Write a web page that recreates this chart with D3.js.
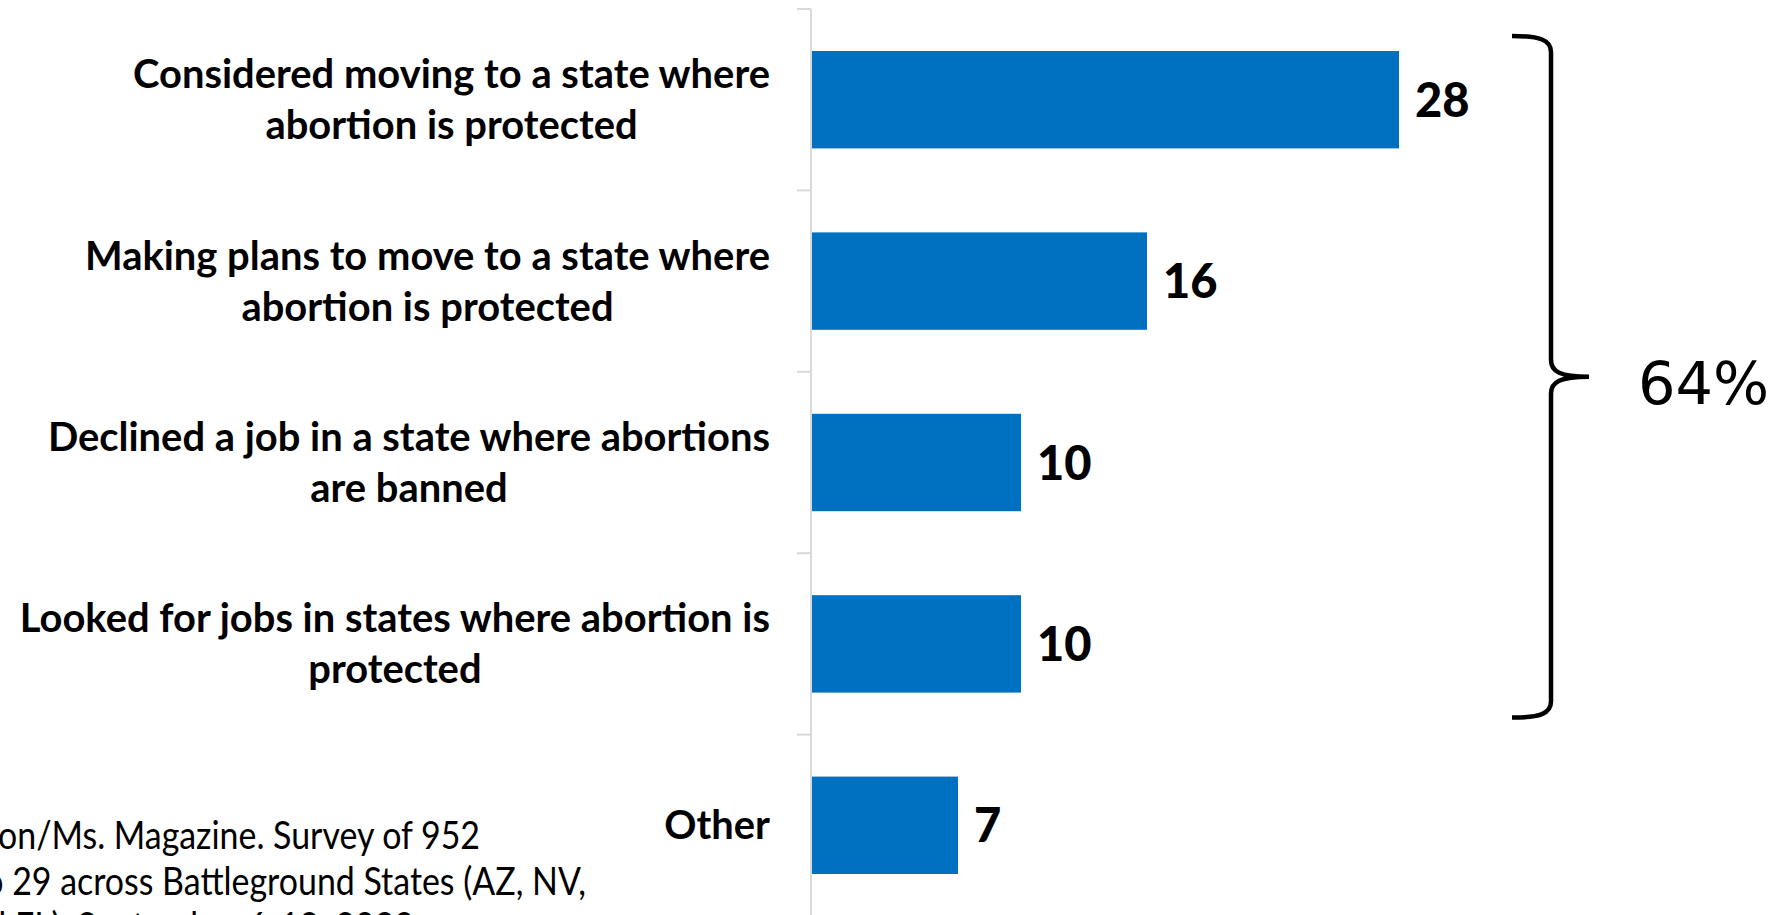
<!DOCTYPE html>
<html>
<head>
<meta charset="utf-8">
<script src="https://cdn.jsdelivr.net/npm/d3@7"></script>
<style>
  html, body { margin: 0; padding: 0; background: #ffffff; overflow: hidden; }
  svg { display: block; }
</style>
</head>
<body>
<svg id="chart" width="1778" height="915"></svg>
<script>
// ---- data ----
const categoryLines = [
  ["Considered moving to a state where", "abortion is protected"],
  ["Making plans to move to a state where", "abortion is protected"],
  ["Declined a job in a state where abortions", "are banned"],
  ["Looked for jobs in states where abortion is", "protected"],
  ["Other"]
];
const categories = categoryLines.map(l => l.join(" "));
const values = [28, 16, 10, 10, 7];
const bracketLabel = "64%";
const noteLines = [
  "tion/Ms. Magazine. Survey of 952",
  "to 29 across Battleground States (AZ, NV,",
  "and FL). September 6-12, 2022"
];

// ---- layout ----
const W = 1778, H = 915;
const axisX = 811;
const svg = d3.select("#chart");

const y = d3.scaleBand()
  .domain(categories)
  .range([9, 916])
  .paddingInner(0.463)
  .paddingOuter(0.2315);

const x = d3.scaleLinear()
  .domain([0, 30])
  .range([axisX, axisX + 30 * 21]);

const blue = "#0070C0";
const labelFont = "Lato, 'Open Sans', sans-serif";

// measure helper
function measure(text, size, weight) {
  const t = svg.append("text")
    .attr("font-family", labelFont)
    .attr("font-size", size)
    .attr("font-weight", weight)
    .text(text);
  const w = t.node().getComputedTextLength();
  t.remove();
  return w;
}

// condensation to mimic the narrow original face
const k = 637 / measure(categoryLines[0][0], 40, 700);
const kNote = 482 / measure("on/Ms. Magazine. Survey of 952", 38, 400);

// ---- axis ----
const axisG = svg.append("g");
axisG.append("line")
  .attr("x1", axisX).attr("x2", axisX)
  .attr("y1", y.range()[0]).attr("y2", y.range()[1])
  .attr("stroke", "#d9d9d9").attr("stroke-width", 2);
const boundaries = d3.range(categories.length + 1).map(i => y.range()[0] + i * y.step());
axisG.selectAll("line.tick").data(boundaries).join("line")
  .attr("class", "tick")
  .attr("x1", axisX - 14).attr("x2", axisX)
  .attr("y1", d => d).attr("y2", d => d)
  .attr("stroke", "#d9d9d9").attr("stroke-width", 2);

// ---- bars ----
svg.append("g").selectAll("rect").data(values).join("rect")
  .attr("x", x(0) + 1)
  .attr("y", (d, i) => y(categories[i]))
  .attr("width", d => x(d) - x(0) - 1)
  .attr("height", y.bandwidth())
  .attr("fill", blue);

// ---- value labels ----
svg.append("g").selectAll("text").data(values).join("text")
  .attr("x", d => x(d) + 16)
  .attr("y", (d, i) => y(categories[i]) + y.bandwidth() / 2 + 17)
  .attr("font-family", labelFont)
  .attr("font-weight", 900)
  .attr("font-size", 47)
  .attr("fill", "#000")
  .text(d => d);

// ---- category labels ----
const labelRight = 770;
const lineH = 51;
const labG = svg.append("g");
categoryLines.forEach((lines, ci) => {
  const cy = y(categories[ci]) + y.bandwidth() / 2;
  const widths = lines.map(l => measure(l, 40, 700) * k);
  const blockW = d3.max(widths);
  const cx = labelRight - blockW / 2;
  lines.forEach((line, li) => {
    labG.append("text")
      .attr("x", cx - widths[li] / 2)
      .attr("y", cy + (li - (lines.length - 1) / 2) * lineH + 14)
      .attr("font-family", labelFont)
      .attr("font-weight", 700)
      .attr("font-size", 40)
      .attr("textLength", widths[li])
      .attr("lengthAdjust", "spacingAndGlyphs")
      .attr("fill", "#000")
      .text(line);
  });
});

// ---- bracket ----
const topY = y(categories[0]) - 15;
const botY = y(categories[3]) + y.bandwidth() + 25;
const midY = (topY + botY) / 2;
const tipX = 1512, spineX = 1551, pointX = 1589;
const p = d3.path();
p.moveTo(tipX, topY);
p.bezierCurveTo(tipX + 28, topY, spineX, topY + 4, spineX, topY + 16);
p.lineTo(spineX, midY - 17);
p.bezierCurveTo(spineX, midY - 5, spineX + 9, midY, pointX, midY);
p.bezierCurveTo(spineX + 9, midY, spineX, midY + 5, spineX, midY + 17);
p.lineTo(spineX, botY - 16);
p.bezierCurveTo(spineX, botY - 4, tipX + 28, botY, tipX, botY);
svg.append("path")
  .attr("d", p.toString())
  .attr("fill", "none")
  .attr("stroke", "#000")
  .attr("stroke-width", 4.5);

svg.append("text")
  .attr("x", 1638)
  .attr("y", midY + 27)
  .attr("font-family", "'DejaVu Sans', sans-serif")
  .attr("font-size", 59)
  .attr("fill", "#000")
  .text(bracketLabel);

// ---- source note (clipped at left edge, as in the original slide) ----
const noteRight = [480, 586, 414];
const noteBase = [849, 895, 940];
noteLines.forEach((line, i) => {
  const w = measure(line, 38, 400) * kNote;
  svg.append("text")
    .attr("x", noteRight[i] - w)
    .attr("y", noteBase[i])
    .attr("font-family", labelFont)
    .attr("font-size", 38)
    .attr("textLength", w)
    .attr("lengthAdjust", "spacingAndGlyphs")
    .attr("fill", "#000")
    .text(line);
});
</script>
</body>
</html>
